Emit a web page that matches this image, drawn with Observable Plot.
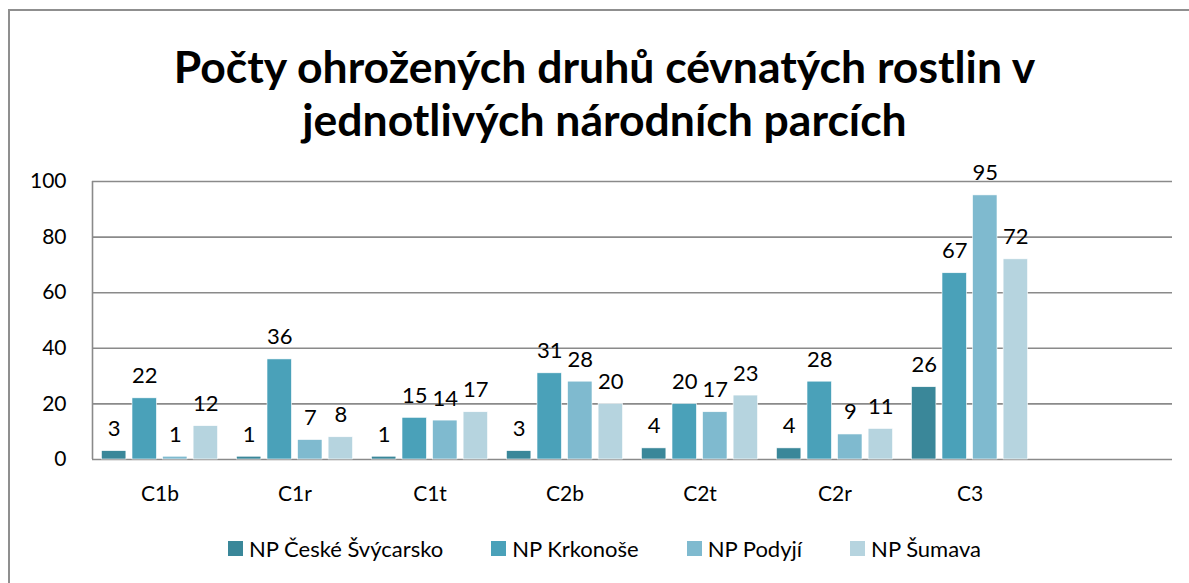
<!DOCTYPE html>
<html>
<head>
<meta charset="utf-8">
<script src="https://cdn.jsdelivr.net/npm/d3@7"></script>
<script src="https://cdn.jsdelivr.net/npm/@observablehq/plot@0.6"></script>
<style>
  html, body { margin: 0; padding: 0; background: #fff; width: 1189px; height: 583px; overflow: hidden; font-family: Lato, "Open Sans", sans-serif; }
  #border { position: absolute; left: 8px; top: 9px; width: 1300px; height: 700px; border-top: 2px solid #8f8f8f; border-left: 2px solid #8f8f8f; }
  #title { position: absolute; left: 10px; top: 39px; width: 1189px; text-align: center; font-weight: bold; font-size: 44.5px; line-height: 53px; color: #000; }
  #chart { position: absolute; left: 0; top: 150px; }
  #legend { position: absolute; left: 10px; top: 535px; width: 1189px; display: flex; justify-content: center; font-size: 22px; color: #000; }
  .item { display: flex; align-items: center; margin: 0 24px; }
  .sw { width: 15px; height: 15px; margin-right: 6px; }
</style>
</head>
<body>
<div id="border"></div>
<div id="title">Počty ohrožených druhů cévnatých rostlin v<br>jednotlivých národních parcích</div>
<div id="chart"></div>
<div id="legend"></div>
<script>
const categories = ["C1b", "C1r", "C1t", "C2b", "C2t", "C2r", "C3"];
const seriesNames = ["NP České Švýcarsko", "NP Krkonoše", "NP Podyjí", "NP Šumava"];
const ceskeSvycarsko = [3, 1, 1, 3, 4, 4, 26];
const krkonose = [22, 36, 15, 31, 20, 28, 67];
const podyji = [1, 7, 14, 28, 17, 9, 95];
const sumava = [12, 8, 17, 20, 23, 11, 72];
const colors = ["#3A8799", "#4AA1B9", "#7FBACF", "#B6D4DF"];
const yTicks = [0, 20, 40, 60, 80, 100];

const seriesValues = [ceskeSvycarsko, krkonose, podyji, sumava];
const xDomain = [...categories, ""];

const width = 1189, height = 370;
const marginLeft = 92, marginRight = 17;
const band = (width - marginLeft - marginRight) / xDomain.length;
const outerPad = band * 0.07;
const step = (band - 2 * outerPad) / 3.8 ;
const barW = step * 0.8;

const marks = [
  Plot.ruleY(yTicks, {stroke: "#8a8a8a", strokeWidth: 1.6}),
  Plot.ruleX([categories[0]], {y1: 0, y2: 100, dx: -band / 2, stroke: "#8a8a8a", strokeWidth: 1.6})
];
seriesValues.forEach((vals, i) => {
  const data = categories.map((c, k) => ({cat: c, value: vals[k]}));
  const left = outerPad + i * step;
  marks.push(Plot.barY(data, {
    x: "cat", y: "value", fill: colors[i],
    insetLeft: left, insetRight: band - left - barW,
    stroke: "#fff", strokeWidth: 0.6
  }));
  marks.push(Plot.text(data, {
    x: "cat", y: "value", text: d => String(d.value),
    dx: left + barW / 2 - band / 2, dy: -15, lineAnchor: "bottom",
    fontSize: 22, fill: "#000"
  }));
});

const chart = Plot.plot({
  width, height,
  marginLeft, marginRight, marginTop: 31, marginBottom: 61,
  style: {fontFamily: "Lato, 'Open Sans', sans-serif", fontSize: "21px", color: "#000", background: "transparent"},
  x: {domain: xDomain, padding: 0, tickSize: 0, tickPadding: 27, label: null},
  y: {domain: [0, 100], ticks: yTicks, tickSize: 0, tickPadding: 26, label: null},
  marks
});
document.getElementById("chart").appendChild(chart);

const legend = document.getElementById("legend");
seriesNames.forEach((name, i) => {
  const item = document.createElement("div");
  item.className = "item";
  const sw = document.createElement("div");
  sw.className = "sw";
  sw.style.background = colors[i];
  const t = document.createElement("span");
  t.textContent = name;
  item.appendChild(sw);
  item.appendChild(t);
  legend.appendChild(item);
});
</script>
</body>
</html>
